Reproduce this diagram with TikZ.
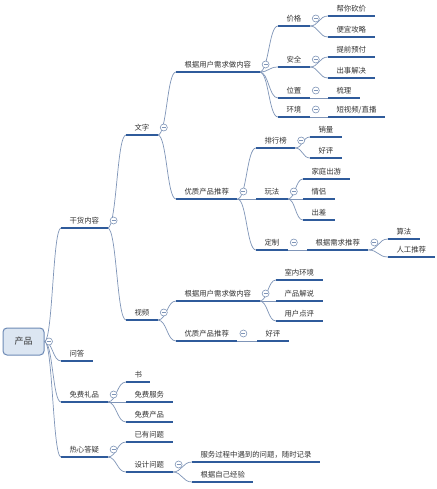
\documentclass[tikz,border=0pt]{standalone}
\usepackage{fontspec}
\newfontfamily\cjk{Noto Sans CJK SC}
\usetikzlibrary{calc}
\definecolor{uline}{HTML}{2F5B9B}
\definecolor{conn}{HTML}{7F95B8}
\definecolor{txt}{HTML}{333333}
\definecolor{rootfill}{HTML}{DCE6F2}
\definecolor{rootdraw}{HTML}{6D8AB5}
\newcommand\link[3][south east]{\draw[cn] let \p1=(#2.#1), \p2=(#3.south west) in (\p1) .. controls ({(\x1+\x2)/2},\y1) and ({(\x1+\x2)/2},\y2) .. (\p2);}
\begin{document}
\begin{tikzpicture}[x=1pt,y=-1pt,
 topic/.style={anchor=south west, inner xsep=8.3pt, inner ysep=3pt, text height=6.5pt, text depth=1pt, font=\cjk\fontsize{7.4}{9}\selectfont, text=txt},
 ul/.style={draw=uline, line width=1.8pt},
 cn/.style={draw=conn, line width=0.7pt},
 coll/.style={circle, draw=conn, fill=white, line width=0.6pt, minimum size=7pt, inner sep=0pt, path picture={\draw[conn, line width=0.6pt] ([xshift=-2pt]path picture bounding box.center) -- ([xshift=2pt]path picture bounding box.center);}},
 rootbox/.style={draw=rootdraw, fill=rootfill, rounded corners=4pt, line width=1pt, minimum width=41pt, minimum height=27pt, font=\cjk\fontsize{9}{10}\selectfont, text=txt}
]
\useasboundingbox[fill=white] (0,0) rectangle (436,489);

\node[rootbox] (root) at (23.5,341.5) {产品};

\node[topic] (gh) at (61,228) {干货内容};
\node[topic] (wd) at (61,361) {问答};
\node[topic] (lp) at (61,402) {免费礼品};
\node[topic] (dy) at (61,457) {热心答疑};
\node[topic] (wz) at (126,135) {文字};
\node[topic] (sp) at (126,320) {视频};
\node[topic] (shu) at (126,382) {书};
\node[topic] (fw) at (126,402) {免费服务};
\node[topic] (cp) at (126,422) {免费产品};
\node[topic] (yy) at (126,442) {已有问题};
\node[topic] (sj) at (126,472) {设计问题};
\node[topic] (sja) at (192,462) {服务过程中遇到的问题，随时记录};
\node[topic] (sjb) at (192,482) {根据自己经验};
\node[topic] (wza) at (176,72) {根据用户需求做内容};
\node[topic] (wzb) at (176,199) {优质产品推荐};
\node[topic] (jg) at (278,26) {价格};
\node[topic] (jga) at (328,16) {帮你砍价};
\node[topic] (jgb) at (328,37) {便宜攻略};
\node[topic] (aq) at (278,67) {安全};
\node[topic] (aqa) at (328,57) {提前预付};
\node[topic] (aqb) at (328,78) {出事解决};
\node[topic] (wzh) at (278,98) {位置};
\node[topic] (wzha) at (328,98) {梳理};
\node[topic] (hj) at (278,117) {环境};
\node[topic] (hja) at (328,117) {短视频/直播};
\node[topic] (phb) at (256,148) {排行榜};
\node[topic] (phba) at (310,137) {销量};
\node[topic] (phbb) at (310,158) {好评};
\node[topic] (wf) at (256,199) {玩法};
\node[topic] (wfa) at (303,179) {家庭出游};
\node[topic] (wfb) at (303,199) {情侣};
\node[topic] (wfc) at (303,220) {出差};
\node[topic] (dz) at (256,250) {定制};
\node[topic] (dza) at (307,250) {根据需求推荐};
\node[topic] (dzaa) at (388,239) {算法};
\node[topic] (dzab) at (388,257) {人工推荐};
\node[topic] (spa) at (176,301) {根据用户需求做内容};
\node[topic] (spaa) at (276,280) {室内环境};
\node[topic] (spab) at (276,301) {产品解说};
\node[topic] (spac) at (276,321) {用户点评};
\node[topic] (spb) at (176,341) {优质产品推荐};
\node[topic] (spba) at (257,341) {好评};

% connectors
\foreach \kid in {gh,wd,lp,dy} {\link[east]{root}{\kid}}
\foreach \mom/\kid in {gh/wz,gh/sp,lp/shu,lp/fw,lp/cp,dy/yy,dy/sj,sj/sja,sj/sjb,
  wz/wza,wz/wzb,wza/jg,wza/aq,wza/wzh,wza/hj,jg/jga,jg/jgb,aq/aqa,aq/aqb,wzh/wzha,hj/hja,
  wzb/phb,wzb/wf,wzb/dz,phb/phba,phb/phbb,wf/wfa,wf/wfb,wf/wfc,dz/dza,dza/dzaa,dza/dzab,
  sp/spa,sp/spb,spa/spaa,spa/spab,spa/spac,spb/spba} {\link{\mom}{\kid}}

% underlines
\foreach \n in {gh,wd,lp,dy,wz,sp,shu,fw,cp,yy,sj,sja,sjb,wza,wzb,jg,jga,jgb,aq,aqa,aqb,wzh,wzha,hj,hja,
  phb,phba,phbb,wf,wfa,wfb,wfc,dz,dza,dzaa,dzab,spa,spaa,spab,spac,spb,spba}
  {\draw[ul] (\n.south west) -- (\n.south east);}

% collapse markers
\node[coll] (c-root) at (49,341.5) {};
\foreach \n in {gh,lp,dy,sj,wz,wza,wzb,jg,aq,wzh,hj,phb,wf,dz,dza,sp,spa,spb}
  {\node[coll] (c-\n) at ($(\n.south east)+(6,-7.5)$) {};}
\end{tikzpicture}
\end{document}
